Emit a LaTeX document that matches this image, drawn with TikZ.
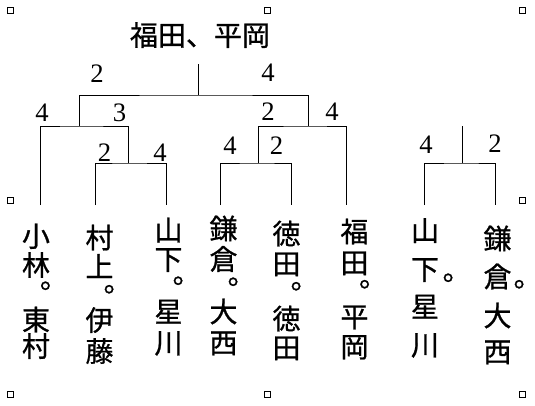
\documentclass[tikz,border=0pt]{standalone}
\usepackage{fontspec}
\setmainfont{Liberation Serif}
\newfontfamily\jp{Noto Sans CJK JP}[FakeBold=0.8]
\begin{document}
\begin{tikzpicture}[x=0.75pt,y=-0.75pt,line width=0.75pt,
  num/.style={font=\fontsize{20}{20}\selectfont,inner sep=0pt},
  jpc/.style={font=\jp\fontsize{21}{21}\selectfont,inner sep=0pt,text height=18.5pt,text depth=2.5pt},
  dotc/.style={jpc,xshift=6.5pt,yshift=5.9pt},
  handle/.style={draw,fill=white,minimum size=4.5pt,inner sep=0pt,line width=0.6pt}]
\useasboundingbox (0,0) rectangle (535,405);
% selection handles
\foreach \n/\x/\y in {h1/10/10,h2/267/10,h3/522/10,h4/10/200,h5/522/200,h6/10/394,h7/267/394,h8/522/394}
  \node[handle,name=\n] at (\x,\y) {};
% title
\node[jpc] (title) at (200,35) {福田、平岡};
% coordinates
\coordinate (r) at (198,64);
\coordinate (rb) at (198,95);
\coordinate (m1) at (79,126);
\coordinate (m6) at (308,126);
\coordinate (m23) at (128.3,163);
\coordinate (m45) at (258.3,163);
\coordinate (m78) at (462.7,163);
\coordinate (t78) at (462.7,126);
\coordinate (l1) at (40.7,205);
\coordinate (l2) at (95.7,205);
\coordinate (l3) at (166.3,205);
\coordinate (l4) at (220.3,205);
\coordinate (l5) at (291.7,205);
\coordinate (l6) at (346.5,205);
\coordinate (l7) at (424.3,205);
\coordinate (l8) at (495,205);
% bracket lines
\draw (r) -- (rb);
\draw (m1) |- (rb) -| (m6);
\draw (l1) |- (m1) -| (m23);
\draw (l2) |- (m23) -| (l3);
\draw (l4) |- (m45) -| (l5);
\draw (m45) |- (m6) -| (l6);
\draw (l7) |- (m78) -| (l8);
\draw (m78) -- (t78);
% scores
\foreach \n/\x/\y/\t in {s1/97/74/2,s2/268/73/4,s3/42/113/4,s4/119.5/113/3,s5/104.5/153/2,s6/160/153/4,
  s7/230/145.5/4,s8/268/112/2,s9/332/112/4,s10/276.5/146/2,s11/426/145/4,s12/495/144/2}
  \node[num,name=\n] at (\x,\y) {\t};
% vertical names
\foreach \n/\x/\y/\t in {
  a1/36/236/小,a2/36/265/林,a3/36/319.5/東,a4/36/346/村,
  b1/99.5/237.5/村,b2/99.5/266.5/上,b3/99.5/320/伊,b4/99.5/351/藤,
  c1/168.5/230/山,c2/168.5/259/下,c3/168.5/311.5/星,c4/168.5/342.5/川,
  d1/223.5/228.5/鎌,d2/223.5/259/倉,d3/223.5/311.5/大,d4/223.5/342.5/西,
  e1/286.5/233.5/徳,e2/286.5/263.5/田,e3/286.5/318.5/徳,e4/286.5/347.5/田,
  f1/354.5/231.5/福,f2/354.5/262.5/田,f3/354.5/316.5/平,f4/354.5/346.5/岡,
  g1/425/230.5/山,g2/425/269/下,g3/425/306.5/星,g4/425/344.5/川,
  k1/497.5/238.5/鎌,k2/497.5/276.5/倉,k3/497.5/315.5/大,k4/497.5/351.5/西}
  \node[jpc,name=\n] at (\x,\y) {\t};
% full stops
\foreach \n/\x/\y in {a0/45.3/285.5,b0/109/289,c0/178/280.5,d0/233/281.5,e0/296/286,f0/364.5/284,g0/448/277.5,k0/519/284}
  \node[dotc,name=\n] at (\x,\y) {。};
\end{tikzpicture}
\end{document}
